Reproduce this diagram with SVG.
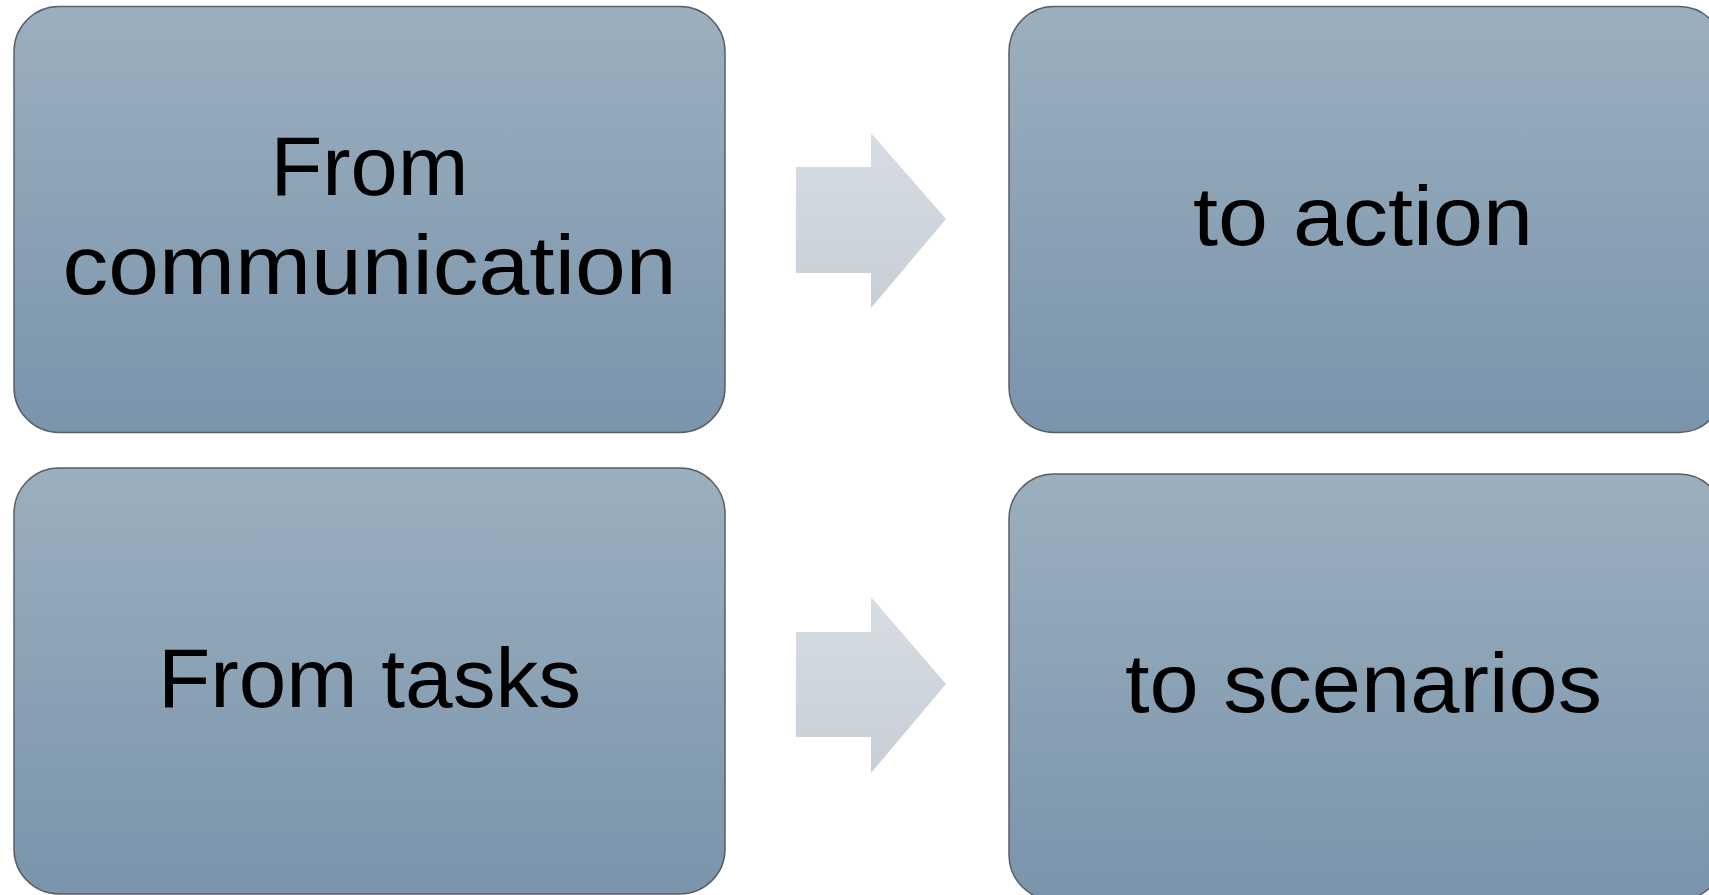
<svg xmlns="http://www.w3.org/2000/svg" width="1709" height="895" viewBox="0 0 1709 895">
  <style>
    .box { fill: url(#boxFill); stroke: #5a5f66; stroke-width: 1.5; }
    .arrow { fill: url(#arrowFill); stroke: none; }
    .label { font-family: "Liberation Sans", Arial, sans-serif; font-size: 84px; fill: #000; text-anchor: middle; }
  </style>
  <defs>
    <linearGradient id="boxFill" x1="0" y1="0" x2="0" y2="1">
      <stop offset="0" stop-color="#9cafbe"/>
      <stop offset="1" stop-color="#7a94ac"/>
    </linearGradient>
    <linearGradient id="arrowFill" x1="0" y1="0" x2="0" y2="1">
      <stop offset="0" stop-color="#d8dde3"/>
      <stop offset="1" stop-color="#c7ced7"/>
    </linearGradient>
  </defs>

  <g id="from-communication">
    <rect class="box" x="14" y="6.5" width="711" height="426" rx="45" ry="45"/>
    <text class="label" x="369.5" y="195" textLength="198" lengthAdjust="spacingAndGlyphs">From</text>
    <text class="label" x="369.5" y="294" textLength="614" lengthAdjust="spacingAndGlyphs">communication</text>
  </g>

  <g id="to-action">
    <rect class="box" x="1009" y="6.5" width="715" height="426" rx="45" ry="45"/>
    <text class="label" x="1363" y="245" textLength="340" lengthAdjust="spacingAndGlyphs">to action</text>
  </g>

  <g id="from-tasks">
    <rect class="box" x="14" y="468" width="711" height="426" rx="45" ry="45"/>
    <text class="label" x="369.5" y="707" textLength="423" lengthAdjust="spacingAndGlyphs">From tasks</text>
  </g>

  <g id="to-scenarios">
    <rect class="box" x="1009" y="474" width="715" height="426" rx="45" ry="45"/>
    <text class="label" x="1363.5" y="712" textLength="477" lengthAdjust="spacingAndGlyphs">to scenarios</text>
  </g>

  <g id="connectors">
    <polygon class="arrow" points="796,167 871,167 871,133 946,219 871,308 871,273 796,273"/>
    <polygon class="arrow" points="796,632 871,632 871,597 946,684 871,773 871,737 796,737"/>
  </g>
</svg>
